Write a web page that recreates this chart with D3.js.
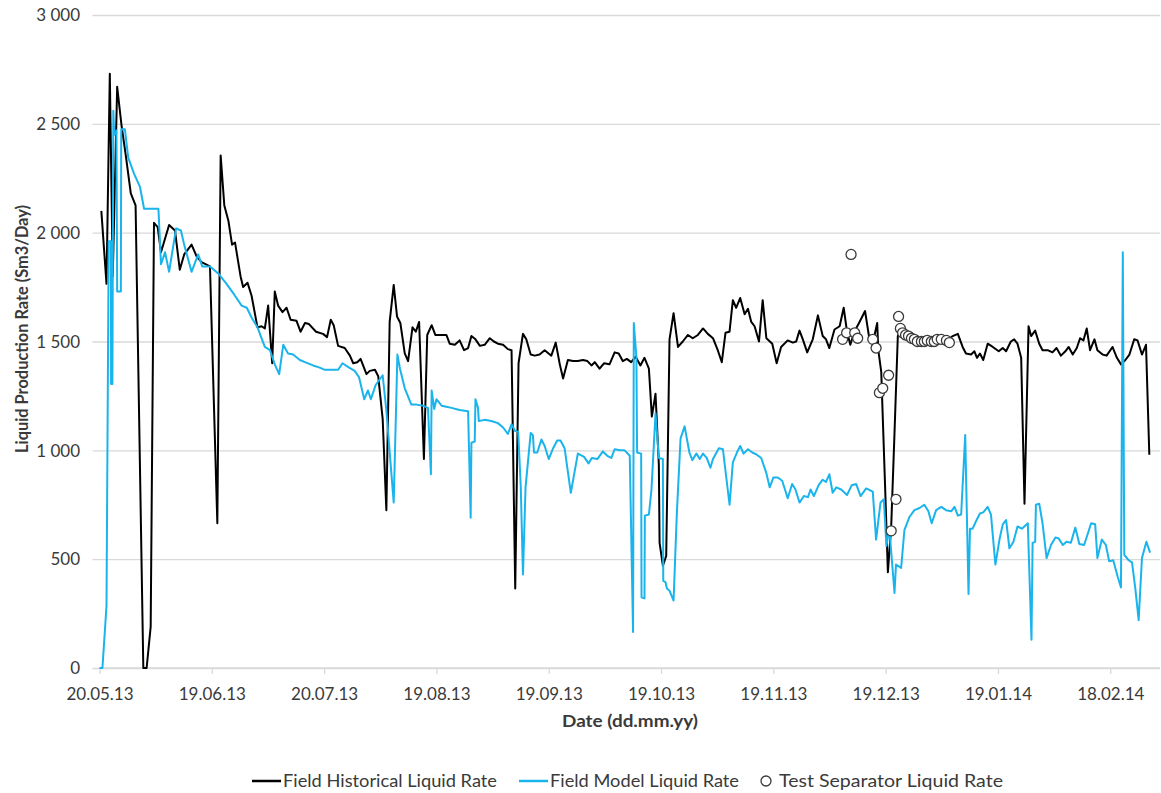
<!DOCTYPE html>
<html>
<head>
<meta charset="utf-8">
<script src="https://cdn.jsdelivr.net/npm/d3@7"></script>
<style>
  body { margin: 0; background: #ffffff; }
  svg text { font-family: Lato, "Open Sans", sans-serif; fill: #3a3a3a; }
</style>
</head>
<body>
<svg id="chart" width="1161" height="793"></svg>
<script>
// Days are counted from 20.05.13; rates in Sm3/Day.
const histDays = [0.5,1.9,2.8,3.6,4.8,6.0,7.1,8.5,9.8,11.9,12.8,13.9,14.8,15.8,16.7,18.9,20.5,21.8,23.0,25.0,26.4,27.7,30.0,32.0,32.9,33.9,35.0,36.0,36.8,38.3,39.0,40.2,41.3,42.9,44.0,44.9,45.8,46.9,47.6,48.5,49.7,50.8,51.9,53.5,54.6,55.8,56.9,58.8,60.7,61.8,62.8,63.6,64.8,66.6,68.0,68.9,70.0,70.9,72.5,73.4,74.8,75.7,76.9,77.9,78.8,79.9,80.8,81.7,82.9,83.8,85.0,85.9,86.8,88.1,89.0,90.2,91.2,92.9,94.2,95.1,96.5,97.8,99.0,100.1,101.0,102.1,103.3,104.6,106.0,107.1,108.2,109.6,110.9,111.9,112.9,113.8,115.0,115.9,117.1,118.2,119.5,120.9,122.7,123.9,125.0,125.9,127.2,128.6,129.9,131.3,132.5,133.6,134.5,135.8,137.0,138.5,139.9,141.0,142.1,143.2,144.4,145.6,146.9,148.0,149.2,150.0,151.0,151.9,152.1,153.0,153.9,154.8,155.9,157.1,158.4,159.8,161.1,162.5,163.9,165.2,166.6,167.9,169.0,170.0,171.1,172.0,172.9,174.0,175.2,176.1,177.0,177.9,179.1,180.1,181.1,182.7,183.9,185.1,186.9,188.3,189.2,190.1,191.0,192.2,193.7,195.1,196.4,197.3,198.2,199.6,201.0,202.1,203.0,203.9,205.0,206.4,207.9,209.1,210.3,211.2,211.5,212.3,213.4,214.1,215.0,215.9,216.8,217.5,218.6,219.9,221.3,222.7,224.9,226.7,228.6,229.9,231.7,233.1,234.4,235.3,236.7,237.6,238.3,239.1,240.0,241.2,242.6,244.2,245.3,246.2,247.5,248.4,249.3,250.3,251.2,252.3,253.0,254.1,255.2,256.1,257.5,258.8,259.9,261.1,262.3,263.2,264.3,265.4,266.3,267.2,268.1,269.0,270.2,271.0,272.4,273.5,275.1,276.3,277.4,278.6,279.7,281.0,281.9,283.1,284.2,285.1];
const histValues = [2100,1765,2730,1800,2670,2490,2360,2180,2125,0,0,190,2045,2025,1910,2035,2010,1830,1900,1945,1890,1865,1845,665,2355,2125,2055,1945,1955,1800,1750,1770,1710,1565,1570,1560,1665,1400,1730,1665,1635,1655,1600,1595,1545,1585,1580,1545,1535,1520,1600,1575,1480,1470,1435,1400,1405,1420,1350,1365,1370,1340,1145,725,1590,1760,1615,1585,1445,1410,1565,1545,1590,960,1530,1575,1530,1530,1530,1490,1485,1505,1460,1470,1525,1510,1480,1485,1515,1500,1490,1485,1465,1460,365,1400,1535,1510,1440,1435,1440,1460,1435,1495,1395,1330,1415,1410,1410,1415,1410,1390,1405,1375,1400,1395,1450,1445,1410,1420,1405,1430,1390,1425,1375,1155,1260,935,575,470,515,1510,1630,1475,1500,1530,1515,1530,1560,1535,1515,1460,1405,1540,1545,1690,1655,1700,1625,1650,1590,1570,1500,1690,1515,1490,1400,1475,1505,1495,1500,1550,1510,1450,1510,1620,1525,1510,1470,1555,1570,1655,1545,1485,1545,1590,1640,1510,1515,1585,1460,1360,805,440,650,1080,1525,1555,1540,1525,1515,1510,1515,1505,1510,1500,1525,1535,1475,1445,1440,1455,1425,1445,1415,1490,1475,1455,1470,1455,1500,1510,1490,1425,755,1570,1525,1550,1490,1460,1460,1450,1470,1435,1455,1475,1440,1470,1515,1505,1560,1460,1510,1460,1440,1435,1475,1425,1395,1415,1440,1510,1505,1440,1485,980];

const modelDays = [0,0.8,1.9,2.5,3.1,3.15,3.5,3.75,4.0,4.6,4.8,5.8,5.9,6.9,7.8,9.4,11.0,12.1,16.0,16.7,17.8,18.9,20.8,22.1,23.0,25.0,26.8,27.9,30.0,32.4,34.5,36.6,38.6,40.0,41.3,42.9,44.9,46.3,47.6,48.8,49.9,51.2,52.6,54.4,55.8,58.0,59.8,61.2,63.0,64.8,66.0,67.8,69.3,70.5,71.9,72.9,73.7,75.0,76.9,77.9,79.9,80.9,81.6,82.9,84.7,86.1,87.9,89.2,90.0,90.2,90.9,91.5,92.9,94.2,95.6,97.8,100.1,100.8,101.0,101.9,102.1,102.8,103.0,104.6,106.4,108.2,109.6,110.9,111.9,112.8,113.7,114.4,115.0,115.7,117.1,117.7,118.0,118.9,120.0,120.9,122.0,123.2,124.3,125.2,126.3,128.0,129.9,131.6,132.8,133.7,135.2,136.7,137.9,139.0,139.9,141.3,142.6,144.0,144.9,145.1,145.8,146.0,147.1,147.2,148.0,148.1,149.2,149.9,151.0,151.9,153.0,153.1,153.7,154.1,154.8,155.9,156.8,157.8,158.9,160.2,161.0,162.1,163.0,163.9,164.9,165.9,166.6,168.2,169.3,171.1,172.0,173.1,174.0,174.9,176.1,177.3,178.5,179.7,181.1,182.0,183.0,184.2,185.4,186.9,188.1,189.0,190.1,191.3,192.4,193.1,194.0,195.3,196.4,197.3,198.2,199.1,200.1,201.4,203.0,204.3,205.5,206.7,208.2,210.0,210.9,212.1,213.0,213.7,214.5,215.9,216.3,217.7,218.6,220.0,221.3,222.7,224.0,225.1,226.0,227.2,228.6,229.9,231.3,232.2,233.1,234.0,235.1,236.0,236.4,237.1,238.2,239.1,240.0,241.2,242.1,243.3,244.4,245.3,246.2,247.1,248.2,249.3,250.5,252.1,253.1,253.4,254.1,254.3,255.2,256.1,257.2,258.4,259.6,260.5,261.6,262.6,263.8,265.0,266.1,267.4,269.3,270.4,271.0,272.2,273.3,274.2,275.3,276.5,277.4,277.9,278.3,279.5,280.4,281.3,282.2,283.1,284.3,285.3];
const modelValues = [0,0,285,1960,1960,1305,1305,2560,2450,2470,1730,1730,2475,2475,2345,2270,2210,2110,2110,1855,1910,1820,2020,2010,1945,1820,1900,1845,1845,1810,1765,1715,1665,1655,1610,1565,1475,1460,1395,1350,1485,1445,1440,1415,1405,1390,1380,1370,1370,1370,1400,1380,1365,1335,1235,1275,1235,1300,1345,1185,760,1440,1375,1285,1210,1210,1205,1195,890,1275,1190,1235,1205,1200,1195,1185,1180,690,1035,1040,1235,1195,1135,1140,1135,1125,1105,1075,1120,1090,1085,835,430,830,1080,1070,990,990,1050,1020,960,1010,1045,1045,1010,805,985,970,940,965,960,995,975,965,1005,1000,1000,975,165,1585,1430,990,985,325,320,700,705,820,1170,965,960,400,395,365,355,310,715,1055,1110,990,955,985,960,985,965,920,960,1010,1005,750,945,990,1020,985,1005,990,980,965,895,830,875,875,860,780,845,820,760,790,785,820,790,840,865,855,890,805,830,820,795,840,845,790,825,810,590,760,775,560,640,345,475,460,635,695,725,735,750,720,665,725,740,725,720,740,700,705,1070,340,640,640,680,710,715,740,705,475,590,660,680,550,580,650,640,665,130,575,580,750,755,665,505,565,600,595,565,580,575,645,570,565,665,660,505,590,565,490,495,420,370,1910,520,495,485,365,220,505,580,530];

const sepDays = [201.8,202.9,204.1,205.1,205.9,210.0,210.9,211.8,212.7,214.3,215.0,216.3,217.0,217.5,218.1,218.9,219.7,220.5,221.3,222.1,223.2,224.0,224.8,225.9,226.7,227.5,228.6,230.0,230.8];
const sepValues = [1510,1540,1900,1540,1515,1510,1470,1265,1285,1345,630,775,1615,1560,1540,1530,1525,1515,1510,1500,1500,1500,1505,1500,1500,1510,1510,1505,1495];

const yTicks = [0, 500, 1000, 1500, 2000, 2500, 3000];
const xTickLabels = ["20.05.13","19.06.13","20.07.13","19.08.13","19.09.13","19.10.13","19.11.13","19.12.13","19.01.14","18.02.14"];
const xTickStep = 30.5; // days between labelled gridlines

const seriesNames = ["Field Historical Liquid Rate", "Field Model Liquid Rate", "Test Separator Liquid Rate"];
const colors = { hist: "#000000", model: "#1ab4ed", grid: "#d9d9d9", marker: "#3a3a3a" };

const svg = d3.select("#chart");
const plot = { left: 99.5, right: 1160, top: 15, bottom: 668 };

const x = d3.scaleLinear().domain([0, 288]).range([plot.left, plot.right]);
const y = d3.scaleLinear().domain([0, 3000]).range([plot.bottom, plot.top]);

// Horizontal gridlines and y axis labels
const yAxis = d3.axisLeft(y)
  .tickValues(yTicks)
  .tickSize(plot.left - plot.right)
  .tickSizeOuter(0)
  .tickPadding(0)
  .tickFormat(v => d3.format(",")(v).replace(/,/g, " "));
const gy = svg.append("g").attr("transform", `translate(${plot.left},0)`).call(yAxis);
gy.select(".domain").remove();
gy.selectAll(".tick line").attr("stroke", colors.grid).attr("stroke-width", 1.3)
  .attr("x1", -7);
gy.selectAll(".tick text").attr("x", -19.5).attr("dy", "0.34em")
  .style("font-size", "17px").attr("fill", "#3a3a3a");

// Vertical gridlines and date labels
const xTickValues = xTickLabels.map((_, i) => i * xTickStep);
const xAxis = d3.axisBottom(x)
  .tickValues(xTickValues)
  .tickSize(-(plot.bottom - plot.top))
  .tickSizeOuter(0)
  .tickFormat((d, i) => xTickLabels[i]);
const gx = svg.append("g").attr("transform", `translate(0,${plot.bottom})`).call(xAxis);
gx.select(".domain").remove();
gx.selectAll(".tick line").attr("stroke", colors.grid).attr("stroke-width", 1.3)
  .attr("y2", 6);
gx.selectAll(".tick text").attr("y", 20).attr("dy", "0.71em")
  .style("font-size", "17px").attr("fill", "#3a3a3a");

// Baseline across the full width
svg.append("line")
  .attr("x1", plot.left).attr("x2", plot.right)
  .attr("y1", y(0)).attr("y2", y(0))
  .attr("stroke", colors.grid).attr("stroke-width", 1.3);

// Axis titles
svg.append("text")
  .attr("x", 630).attr("y", 727)
  .attr("text-anchor", "middle")
  .attr("textLength", 136).attr("lengthAdjust", "spacingAndGlyphs")
  .style("font-size", "17.5px").style("font-weight", "bold")
  .text("Date (dd.mm.yy)");
svg.append("text")
  .attr("transform", "translate(28,329) rotate(-90)")
  .attr("text-anchor", "middle")
  .attr("textLength", 248).attr("lengthAdjust", "spacingAndGlyphs")
  .style("font-size", "16.5px").style("font-weight", "bold")
  .text("Liquid Production Rate (Sm3/Day)");

// Series
const line = d3.line().x(d => x(d[0])).y(d => y(d[1]));
const histData = d3.zip(histDays, histValues);
const modelData = d3.zip(modelDays, modelValues);
const sepData = d3.zip(sepDays, sepValues);

svg.append("path").datum(histData)
  .attr("d", line).attr("fill", "none")
  .attr("stroke", colors.hist).attr("stroke-width", 2).attr("stroke-linejoin", "round");
svg.append("path").datum(modelData)
  .attr("d", line).attr("fill", "none")
  .attr("stroke", colors.model).attr("stroke-width", 2).attr("stroke-linejoin", "round");
svg.append("g").selectAll("circle").data(sepData).join("circle")
  .attr("cx", d => x(d[0])).attr("cy", d => y(d[1])).attr("r", 5)
  .attr("fill", "#ffffff").attr("stroke", colors.marker).attr("stroke-width", 1.3);

// Legend under the plot: symbol followed by series name
const legendY = 781;
const legendStarts = [252, 519, 750];
const legendTextWidths = [214, 189, 224];
seriesNames.forEach((name, i) => {
  const g = svg.append("g").attr("transform", `translate(${legendStarts[i]},0)`);
  if (i < 2) {
    g.append("line").attr("x1", 0).attr("x2", 29).attr("y1", legendY).attr("y2", legendY)
      .attr("stroke", i === 0 ? colors.hist : colors.model).attr("stroke-width", 2.5);
  } else {
    g.append("circle").attr("cx", 16).attr("cy", legendY).attr("r", 5)
      .attr("fill", "#fff").attr("stroke", colors.marker).attr("stroke-width", 1.3);
  }
  g.append("text").attr("x", i < 2 ? 31 : 29).attr("y", legendY).attr("dy", "0.35em")
    .attr("textLength", legendTextWidths[i]).attr("lengthAdjust", "spacingAndGlyphs")
    .style("font-size", "18px").text(name);
});
</script>
</body>
</html>
